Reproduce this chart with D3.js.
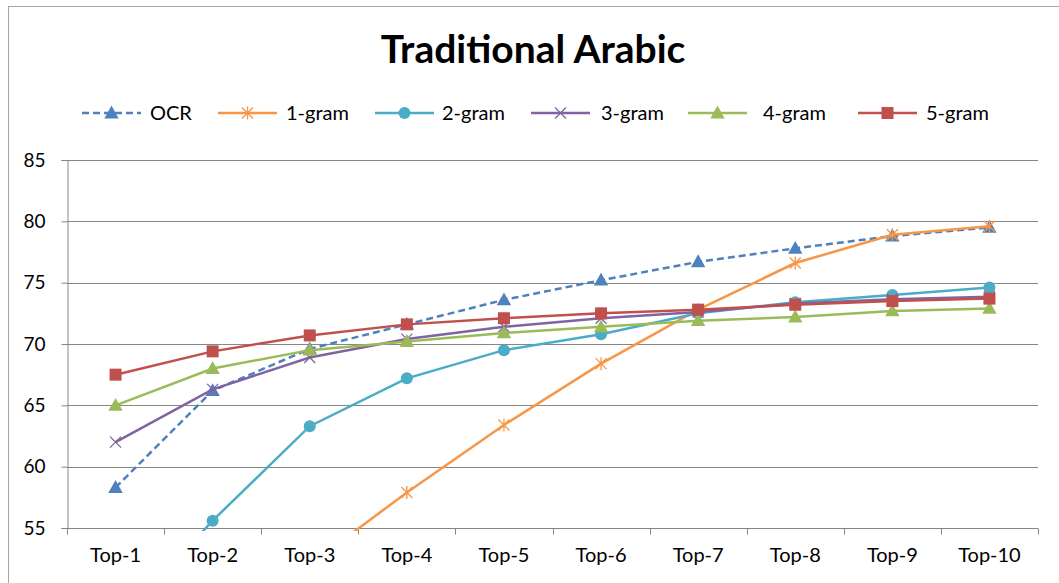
<!DOCTYPE html>
<html>
<head>
<meta charset="utf-8">
<script src="https://cdn.jsdelivr.net/npm/d3@7/dist/d3.min.js"></script>
<style>
  html, body { margin: 0; padding: 0; background: #fff; }
  svg { display: block; }
  text { font-family: Lato, "Open Sans", "DejaVu Sans", sans-serif; fill: #000; }
</style>
</head>
<body>
<svg id="chart" width="1059" height="583"></svg>
<script>
// Categories and series values
const categories = ["Top-1", "Top-2", "Top-3", "Top-4", "Top-5", "Top-6", "Top-7", "Top-8", "Top-9", "Top-10"];
const seriesNames = ["OCR", "1-gram", "2-gram", "3-gram", "4-gram", "5-gram"];
const ocr    = [58.3, 66.2, 69.6, 71.6, 73.6, 75.2, 76.7, 77.8, 78.8, 79.5];
const gram1  = [40.0, 46.0, 52.0, 57.9, 63.4, 68.4, 72.8, 76.6, 78.9, 79.6];
const gram2  = [47.0, 55.6, 63.3, 67.2, 69.5, 70.8, 72.5, 73.4, 74.0, 74.6];
const gram3  = [62.0, 66.3, 68.9, 70.4, 71.4, 72.1, 72.6, 73.3, 73.65, 73.85];
const gram4  = [65.0, 68.0, 69.5, 70.2, 70.9, 71.4, 71.9, 72.2, 72.7, 72.9];
const gram5  = [67.5, 69.4, 70.7, 71.6, 72.1, 72.5, 72.8, 73.2, 73.5, 73.7];
const yTicks = [55, 60, 65, 70, 75, 80, 85];

const colors  = ["#4F81BD", "#F79646", "#4BACC6", "#8064A2", "#9BBB59", "#C0504D"];
const markers = ["triangle", "asterisk", "circle", "cross", "triangle", "square"];
const values  = [ocr, gram1, gram2, gram3, gram4, gram5];

const svg = d3.select("#chart");

// Outer chart border
svg.append("rect")
  .attr("x", 8.5).attr("y", 6.5)
  .attr("width", 1100).attr("height", 700)
  .attr("fill", "none").attr("stroke", "#a6a6a6").attr("stroke-width", 1);

// Title
svg.append("text")
  .attr("x", 533).attr("y", 63)
  .attr("text-anchor", "middle")
  .style("font-size", "39px").style("font-weight", "bold")
  .text("Traditional Arabic");

const plot = { left: 67, right: 1038, top: 160, bottom: 528 };

const x = d3.scaleBand().domain(categories).range([plot.left, plot.right]);
const y = d3.scaleLinear().domain([55, 85]).range([plot.bottom, plot.top]);

// Horizontal gridlines
svg.append("g")
  .selectAll("line").data(yTicks.slice(1)).join("line")
  .attr("x1", plot.left).attr("x2", plot.right)
  .attr("y1", d => Math.round(y(d)) + 0.5).attr("y2", d => Math.round(y(d)) + 0.5)
  .attr("stroke", "#868686").attr("stroke-width", 1);

// Y axis
const yAxis = svg.append("g")
  .attr("transform", `translate(${plot.left + 0.5},0)`)
  .call(d3.axisLeft(y).tickValues(yTicks).tickSize(6).tickPadding(16));
yAxis.selectAll("path, line").attr("stroke", "#868686");
yAxis.selectAll("text").style("font-size", "19px").attr("fill", "#000");

// X axis with ticks at the band edges
const xAxis = svg.append("g")
  .attr("transform", `translate(0,${plot.bottom + 0.5})`)
  .call(d3.axisBottom(x).tickSize(0).tickPadding(19));
xAxis.select("path").attr("d", `M${plot.left},0H${plot.right}`).attr("stroke", "#868686");
xAxis.selectAll("text").style("font-size", "20px").attr("fill", "#000");
const edges = categories.map(c => x(c)).concat([plot.right]);
xAxis.append("g").selectAll("line").data(edges).join("line")
  .attr("x1", d => Math.round(d) + 0.5).attr("x2", d => Math.round(d) + 0.5)
  .attr("y1", 0).attr("y2", 6)
  .attr("stroke", "#868686");

// Clip the series to the plot area
svg.append("defs").append("clipPath").attr("id", "plotClip")
  .append("rect")
  .attr("x", plot.left).attr("y", plot.top - 20)
  .attr("width", plot.right - plot.left + 20).attr("height", plot.bottom - plot.top + 23);

const cx = (i) => x(categories[i]) + x.bandwidth() / 2;

function drawMarker(g, type, color, px, py, size) {
  const s = size;
  if (type === "triangle") {
    g.append("path")
      .attr("d", `M${px},${py - s * 0.62}L${px + s * 0.6},${py + s * 0.45}L${px - s * 0.6},${py + s * 0.45}Z`)
      .attr("fill", color);
  } else if (type === "square") {
    g.append("rect")
      .attr("x", px - s / 2).attr("y", py - s / 2)
      .attr("width", s).attr("height", s).attr("fill", color);
  } else if (type === "circle") {
    g.append("circle").attr("cx", px).attr("cy", py).attr("r", s / 2).attr("fill", color);
  } else if (type === "cross") {
    const h = s / 2;
    g.append("path")
      .attr("d", `M${px - h},${py - h}L${px + h},${py + h}M${px - h},${py + h}L${px + h},${py - h}`)
      .attr("stroke", color).attr("stroke-width", 1.3).attr("fill", "none");
  } else if (type === "asterisk") {
    const h = s / 2;
    g.append("path")
      .attr("d", `M${px - h},${py - h}L${px + h},${py + h}M${px - h},${py + h}L${px + h},${py - h}M${px},${py - h - 1}L${px},${py + h + 1}`)
      .attr("stroke", color).attr("stroke-width", 1.3).attr("fill", "none");
  }
}

const line = d3.line().x((d, i) => cx(i)).y(d => y(d));

const series = svg.append("g").attr("clip-path", "url(#plotClip)");
values.forEach((vals, k) => {
  const g = series.append("g");
  g.append("path")
    .datum(vals)
    .attr("d", line)
    .attr("fill", "none")
    .attr("stroke", colors[k])
    .attr("stroke-width", 2.5)
    .attr("stroke-dasharray", k === 0 ? "7,4" : null);
  vals.forEach((v, i) => {
    drawMarker(g, markers[k], colors[k], cx(i), y(v), markers[k] === "asterisk" || markers[k] === "cross" ? 11 : 12);
  });
});

// Legend
const legendItems = [
  { x0: 82, tx: 150 },
  { x0: 218, tx: 286 },
  { x0: 375, tx: 442 },
  { x0: 531, tx: 601 },
  { x0: 688, tx: 763 },
  { x0: 858, tx: 926 }
];
const legend = svg.append("g");
legendItems.forEach((it, k) => {
  const ly = 113;
  legend.append("line")
    .attr("x1", it.x0).attr("x2", it.x0 + 59)
    .attr("y1", ly).attr("y2", ly)
    .attr("stroke", colors[k]).attr("stroke-width", 2.5)
    .attr("stroke-dasharray", k === 0 ? "7,4" : null);
  drawMarker(legend, markers[k], colors[k], it.x0 + 29.5, ly, markers[k] === "asterisk" || markers[k] === "cross" ? 11 : 12);
  legend.append("text")
    .attr("x", it.tx).attr("y", ly + 7)
    .style("font-size", "20px")
    .text(seriesNames[k]);
});
</script>
</body>
</html>
